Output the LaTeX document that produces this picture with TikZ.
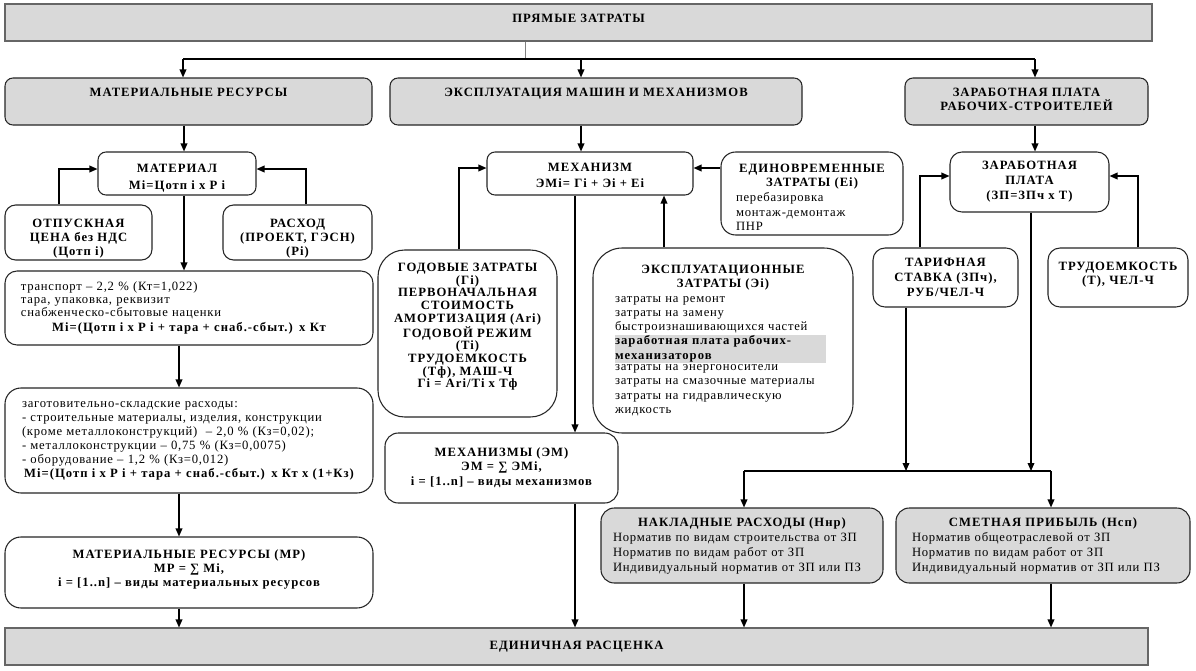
\documentclass[tikz,border=0pt]{standalone}
\usepackage{fontspec}
\setmainfont{Liberation Serif}[LetterSpace=6.0, BoldFeatures={LetterSpace=8.0}]
\usetikzlibrary{arrows.meta,backgrounds}
\definecolor{boxgray}{HTML}{D9D9D9}
\definecolor{hlgray}{HTML}{D9D9D9}
\newcommand\ctrline[1]{\makebox[\hsize]{\bfseries #1}}
\begin{document}
\begin{tikzpicture}[
 x=0.75pt, y=-0.75pt,
 every node/.style={font=\fontsize{9.5}{10.5}\selectfont, inner sep=0pt},
 bf/.style={font=\fontsize{9.5}{10.5}\selectfont\bfseries},
 bx/.style args={#1/#2/#3/#4}{minimum width={(#3-#1)*0.75pt}, minimum height={(#4-#2)*0.75pt}, at={({(#1+#3)/2},{(#2+#4)/2})}},
 box/.style={draw=black!85, line width=0.8pt, rounded corners=6pt, fill=white, align=center},
 gbox/.style={box, fill=boxgray},
 sqbox/.style={draw=black!60, line width=0.8pt, fill=boxgray, align=center},
 ln/.style={line width=1pt},
 arr/.style={ln, -{Triangle[length=6pt,width=5pt]}},
]
\useasboundingbox (0,0) rectangle (1196,671);
\fill[white] (0,0) rectangle (1196,671);

% guide coordinates
\foreach \v in {59,179,183,184,306,459,525,575,581,664,744,906,920,1031,1035,1051,1103,1138}
  {\coordinate (X\v) at (\v,0);}
\foreach \v in {59,168,169,176,471}
  {\coordinate (H\v) at (0,\v);}

% ---- top levels
\node[sqbox, bx=5/4/1152/41, bf] (pz) {ПРЯМЫЕ ЗАТРАТЫ\rule[-6pt]{0pt}{0pt}};
\node[gbox, bx=5/78/372/125, bf] (mr2) {МАТЕРИАЛЬНЫЕ РЕСУРСЫ\rule[-14pt]{0pt}{0pt}};
\node[gbox, bx=390/78/802/125, bf] (em2) {ЭКСПЛУАТАЦИЯ МАШИН И МЕХАНИЗМОВ\rule[-14pt]{0pt}{0pt}};
\node[gbox, bx=905/78/1148/125, bf] (zpr) {ЗАРАБОТНАЯ ПЛАТА\\РАБОЧИХ-СТРОИТЕЛЕЙ\rule[-4pt]{0pt}{0pt}};

% ---- materials column
\node[box, bx=98/152/256/195, bf] (mat) {\rule{0pt}{13pt}МАТЕРИАЛ\\[2pt]Мi=Цотп i х Р i};
\node[box, bx=5/205/152/260, bf, rounded corners=8pt] (otp) {\rule{0pt}{15pt}ОТПУСКНАЯ\\ЦЕНА без НДС\\(Цотп i)};
\node[box, bx=223/205/372/260, bf, rounded corners=8pt] (ras) {\rule{0pt}{15pt}РАСХОД\\(ПРОЕКТ, ГЭСН)\\(Рi)};
\node[box, bx=5/271/373/345, rounded corners=9pt, inner xsep=12pt, text width=252pt, align=left,
      font=\fontsize{9.5}{9.5}\selectfont] (tr)
 {транспорт – 2,2 \% (Кт=1,022)\\тара, упаковка, реквизит\\снабженческо-сбытовые наценки\\[2pt]
  \ctrline{Мi=(Цотп i х Р i + тара + снаб.-сбыт.) х Кт}};
\node[box, bx=5/388/373/493, rounded corners=12pt, inner xsep=12.75pt, text width=250.5pt, align=left] (zag)
 {заготовительно-складские расходы:\\- строительные материалы, изделия, конструкции\\(кроме металлоконструкций) \ – 2,0 \% (Кз=0,02);\\
  - металлоконструкции – 0,75 \% (Кз=0,0075)\\- оборудование – 1,2 \% (Кз=0,012)\\
  \ctrline{Мi=(Цотп i х Р i + тара + снаб.-сбыт.) х Кт х (1+Кз)}};
\node[box, bx=5/537/373/608, bf, rounded corners=12pt] (mrs)
 {МАТЕРИАЛЬНЫЕ РЕСУРСЫ (МР)\\МР = ∑ Мi,\\i = [1..n] – виды материальных ресурсов\rule[-6pt]{0pt}{0pt}};

% ---- machines column
\node[box, bx=487/152/693/195, bf] (meh) {\rule{0pt}{9pt}МЕХАНИЗМ\\[2pt]ЭМi= Гi + Эi + Еi};
\node[box, bx=721/152/903/235, rounded corners=11pt, inner xsep=11.25pt, text width=114pt, align=left,
      font=\fontsize{9.5}{10.9}\selectfont] (edin)
 {\ctrline{\rule{0pt}{12pt}ЕДИНОВРЕМЕННЫЕ}\\\ctrline{ЗАТРАТЫ (Еi)}\\перебазировка\\монтаж-демонтаж\\ПНР};
\node[box, bx=378/250/557/417, rounded corners=20pt, font=\fontsize{9.5}{9.5}\selectfont\bfseries] (god)
 {ГОДОВЫЕ ЗАТРАТЫ\\(Гi)\\ПЕРВОНАЧАЛЬНАЯ\\СТОИМОСТЬ\\АМОРТИЗАЦИЯ (Аri)\\ГОДОВОЙ РЕЖИМ\\(Тi)\\ТРУДОЕМКОСТЬ\\(Тф), МАШ-Ч\\Гi = Аri/Тi х Тф\rule[-12pt]{0pt}{0pt}};
\node[box, bx=593/248/853/433, rounded corners=22pt, inner xsep=16.5pt, text width=162pt, align=left,
      font=\fontsize{9.5}{10.7}\selectfont] (expl)
 {\ctrline{ЭКСПЛУАТАЦИОННЫЕ}\\\ctrline{ЗАТРАТЫ (Эi)}\\затраты на ремонт\\затраты на замену\\быстроизнашивающихся частей\\
  {\fboxsep=0pt\colorbox{hlgray}{\parbox[t]{158pt}{\bfseries\strut заработная плата рабочих-\\механизаторов\strut}}}\\
  затраты на энергоносители\\затраты на смазочные материалы\\затраты на гидравлическую\\жидкость};
\node[box, bx=385/433/618/503, bf, rounded corners=10pt] (mehs)
 {МЕХАНИЗМЫ (ЭМ)\\ЭМ = ∑ ЭМi,\\[1pt]i = [1..n] – виды механизмов};

% ---- wages column
\node[box, bx=950/152/1109/212, bf, rounded corners=9pt, font=\fontsize{9.5}{11.25}\selectfont\bfseries] (zp)
 {ЗАРАБОТНАЯ\\ПЛАТА\\(ЗП=ЗПч х Т)};
\node[box, bx=873/248/1018/307, rounded corners=9pt, font=\fontsize{9.5}{11.5}\selectfont\bfseries] (tar)
 {ТАРИФНАЯ\\СТАВКА (ЗПч),\\РУБ/ЧЕЛ-Ч};
\node[box, bx=1048/248/1188/307, bf, rounded corners=9pt] (trud)
 {ТРУДОЕМКОСТЬ\\(Т), ЧЕЛ-Ч\rule[-7pt]{0pt}{0pt}};

% ---- overheads and profit
\node[gbox, bx=601/508/883/583, rounded corners=10pt, inner xsep=9pt, text width=193.5pt, align=left,
      font=\fontsize{9.5}{11.25}\selectfont] (nakl)
 {\ctrline{НАКЛАДНЫЕ РАСХОДЫ (Ннр)}\\Норматив по видам строительства от ЗП\\Норматив по видам работ от ЗП\\Индивидуальный норматив от ЗП или ПЗ};
\node[gbox, bx=896/508/1190/583, rounded corners=10pt, inner xsep=12pt, text width=196.5pt, align=left,
      font=\fontsize{9.5}{11.25}\selectfont] (smet)
 {\ctrline{СМЕТНАЯ ПРИБЫЛЬ (Нсп)}\\Норматив общеотраслевой от ЗП\\Норматив по видам работ от ЗП\\Индивидуальный норматив от ЗП или ПЗ};

\node[sqbox, bx=5/628/1148/665, bf] (unit) {ЕДИНИЧНАЯ РАСЦЕНКА};

% ---- connectors
\begin{pgfonlayer}{background}
\draw[arr] (trud.south -| X1103) -- (unit.north -| X1103);
\end{pgfonlayer}
\draw[line width=0.6pt, black!50] (pz.south -| X525) -- (X525 |- H59);
\draw[ln] (X183 |- H59) -- (X1035 |- H59);
\draw[arr] (X183 |- H59) -- (mr2.north -| X183);
\draw[arr] (X581 |- H59) -- (em2.north -| X581);
\draw[arr] (X1035 |- H59) -- (zpr.north -| X1035);
\draw[arr] (mr2.south -| X184) -- (mat.north -| X184);
\draw[arr] (em2.south -| X581) -- (meh.north -| X581);
\draw[arr] (zpr.south -| X1035) -- (zp.north -| X1035);

\draw[arr] (otp.north -| X59) |- (mat.west |- H169);
\draw[arr] (ras.north -| X306) |- (mat.east |- H169);
\draw[arr] (mat.south -| X184) -- (tr.north -| X184);
\draw[arr] (tr.south -| X179) -- (zag.north -| X179);
\draw[arr] (zag.south -| X179) -- (mrs.north -| X179);
\draw[arr] (mrs.south -| X179) -- (unit.north -| X179);

\draw[arr] (god.north -| X459) |- (meh.west |- H168);
\draw[arr] (expl.north -| X664) -- (meh.south -| X664);
\draw[arr] (edin.west |- H168) -- (meh.east |- H168);
\draw[arr] (meh.south -| X575) -- (mehs.north -| X575);
\draw[arr] (mehs.south -| X575) -- (unit.north -| X575);

\draw[arr] (tar.north -| X920) |- (zp.west |- H176);
\draw[arr] (trud.north -| X1138) |- (zp.east |- H176);
\draw[arr] (zp.south -| X1031) -- (X1031 |- H471);
\draw[arr] (tar.south -| X906) -- (X906 |- H471);
\draw[ln] (X744 |- H471) -- (X1051 |- H471);
\draw[arr] (X744 |- H471) -- (nakl.north -| X744);
\draw[arr] (X1051 |- H471) -- (smet.north -| X1051);
\draw[arr] (nakl.south -| X744) -- (unit.north -| X744);
\draw[arr] (smet.south -| X1051) -- (unit.north -| X1051);
\end{tikzpicture}
\end{document}
